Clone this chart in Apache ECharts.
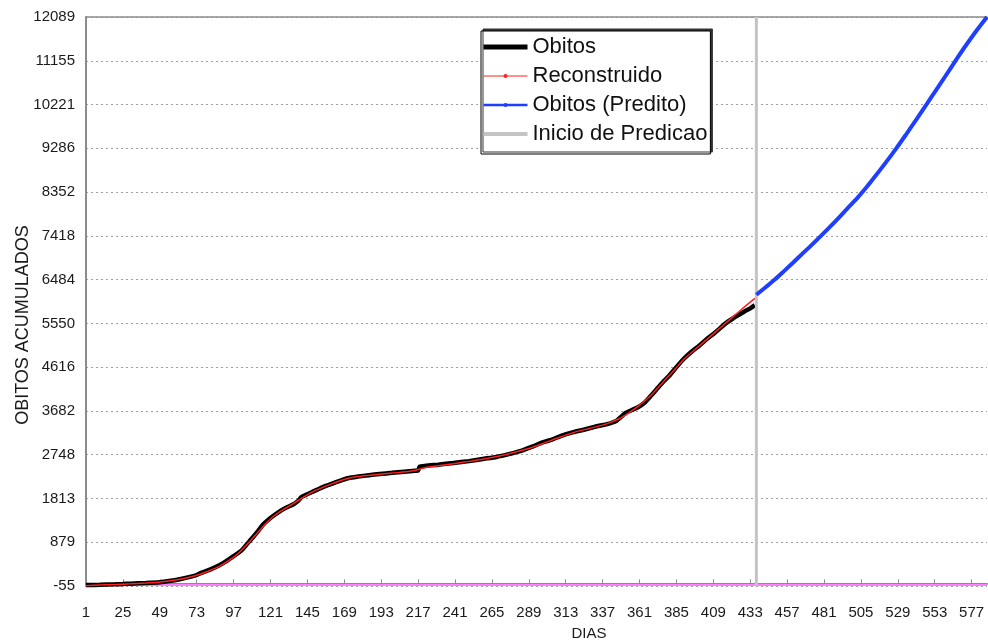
<!DOCTYPE html>
<html>
<head>
<meta charset="utf-8">
<script src="https://cdn.jsdelivr.net/npm/echarts@6/dist/echarts.min.js"></script>
<style>html,body{margin:0;padding:0;background:#fff}#c{width:988px;height:644px}</style>
</head>
<body>
<div id="c"></div>
<script>
// ---- data (day, value) ----
var obitosDays = [1,10,20,25,30,40,49,55,62,70,73,76,82,88,92,96,102,106,110,113,116,120,124,128,132,136,139,141,144,148,152,157,162,167,172,178,185,192,200,208,215,217,218,222,230,240,250,260,268,276,284,292,298,304,310,318,326,334,340,346,352,356,360,364,368,372,376,380,385,390,395,400,405,410,417,422,426,430,433,436];
var obitosVals = [-35,-28,-18,-12,-5,8,25,50,90,150,180,225,300,393,470,560,700,850,1000,1120,1250,1370,1470,1560,1630,1690,1760,1840,1890,1950,2010,2080,2140,2200,2250,2280,2310,2335,2360,2385,2405,2410,2490,2510,2535,2570,2610,2660,2700,2760,2830,2930,3010,3070,3150,3230,3290,3360,3400,3470,3640,3700,3760,3850,3990,4140,4290,4420,4616,4800,4950,5080,5220,5350,5550,5660,5740,5820,5870,5940];

var reconDays = [1,10,20,30,40,48,56,64,72,80,88,94,100,106,112,118,124,130,136,142,148,155,162,170,178,186,195,205,215,220,230,240,250,260,270,280,290,300,310,320,330,340,348,354,360,366,372,378,384,390,396,402,408,414,420,426,431,436];
var reconVals = [-50,-35,-22,-8,8,25,55,100,165,255,370,490,640,840,1060,1280,1460,1590,1710,1830,1950,2050,2140,2230,2280,2310,2340,2370,2410,2460,2510,2555,2605,2655,2720,2800,2890,3010,3130,3240,3320,3410,3520,3640,3780,3940,4140,4360,4570,4790,4960,5130,5300,5470,5640,5810,5950,6084];

var preditoDays = [437,443,449,455,461,467,473,479,485,491,497,503,509,515,521,528,534,541,548,554,560,567,573,580,587];
var preditoVals = [6160,6320,6484,6665,6850,7040,7225,7418,7615,7820,8030,8240,8470,8720,8975,9286,9565,9900,10240,10535,10830,11180,11470,11790,12089];

var inicioDay = 437;
var baseLineVal = -34;

var xMin = 1, xMax = 587, xInterval = 24;
var yMin = -55, yMax = 12089;
var yTickLabels = ['-55','879','1813','2748','3682','4616','5550','6484','7418','8352','9286','10221','11155','12089'];
var yInterval = (yMax - yMin) / (yTickLabels.length - 1);

function pairs(d, v){ return d.map(function(x,i){ return [x, v[i]]; }); }

var chart = echarts.init(document.getElementById('c'), null, {renderer:'canvas'});
var font = 'Liberation Sans, Arial, sans-serif';
var axisGray = '#8c8c8c';
chart.setOption({
  animation: false,
  backgroundColor: '#fff',
  grid: { left: 86, right: 1, top: 17, bottom: 58, show: false, containLabel: false, outerBoundsMode: 'none' },
  legend: {
    orient: 'vertical', left: 481, top: 31,
    padding: [5, 3, 9, 0],
    itemWidth: 44, itemHeight: 5, itemGap: 7,
    backgroundColor: '#fff', borderColor: '#000', borderWidth: 1,
    shadowColor: '#333', shadowOffsetX: 2, shadowOffsetY: -2, shadowBlur: 0,
    textStyle: { fontFamily: font, fontSize: 22, color: '#111', lineHeight: 22 },
    data: [
      { name: 'Obitos', lineStyle: { color: '#000', width: 5 }, itemStyle: { opacity: 0 } },
      { name: 'Reconstruido', lineStyle: { color: '#ff2020', width: 1 }, itemStyle: { color: '#ff2020' } },
      { name: 'Obitos (Predito)', lineStyle: { color: '#1f3fff', width: 2.5 }, itemStyle: { color: '#1f3fff' } },
      { name: 'Inicio de Predicao', lineStyle: { color: '#c4c4c4', width: 4 }, itemStyle: { opacity: 0 } }
    ]
  },
  xAxis: [{
    type: 'value', min: xMin, max: xMax, interval: xInterval, offset: 4,
    name: 'DIAS', nameLocation: 'middle', nameGap: 36, nameMoveOverlap: false,
    nameTextStyle: { fontFamily: font, fontSize: 15, color: '#1a1a1a', padding: [0,0,0,105] },
    axisLine: { show: true, lineStyle: { color: axisGray, width: 2 } },
    axisTick: { show: true, inside: true, length: 4, lineStyle: { color: axisGray } },
    axisLabel: { fontFamily: font, fontSize: 15, color: '#1a1a1a', margin: 15, showMaxLabel: false },
    splitLine: { show: false }
  }, {
    type: 'value', position: 'top', min: xMin, max: xMax,
    axisLine: { show: true, lineStyle: { color: axisGray, width: 1.5 } },
    axisTick: { show: false }, axisLabel: { show: false }, splitLine: { show: false }
  }],
  yAxis: {
    type: 'value', min: yMin, max: yMax, interval: yInterval,
    name: 'OBITOS ACUMULADOS', nameLocation: 'middle', nameGap: 54, nameMoveOverlap: false,
    nameTextStyle: { fontFamily: font, fontSize: 18, color: '#1a1a1a', padding: [0,47,0,0] },
    axisLine: { show: true, lineStyle: { color: axisGray, width: 2 } },
    axisTick: { show: false },
    axisLabel: {
      fontFamily: font, fontSize: 15, color: '#1a1a1a', margin: 11,
      formatter: function(v){ var i = Math.round((v - yMin) / yInterval); return yTickLabels[i] !== undefined ? yTickLabels[i] : ''; }
    },
    splitLine: { show: true, lineStyle: { color: '#a0a0a0', type: [2, 3], width: 1 } }
  },
  series: [
    { name: 'base', type: 'line', data: [[xMin, baseLineVal],[xMax, baseLineVal]], symbol: 'none',
      lineStyle: { color: '#ff80ff', width: 2 }, z: 1, silent: true },
    { name: 'Obitos', type: 'line', data: pairs(obitosDays, obitosVals), symbol: 'none', smooth: 0.2,
      lineStyle: { color: '#000', width: 4.5 }, itemStyle: { color: '#000' }, z: 2 },
    { name: 'Reconstruido', type: 'line', data: pairs(reconDays, reconVals), symbol: 'circle', symbolSize: 2, showSymbol: false, smooth: 0.3,
      lineStyle: { color: '#ff2020', width: 1.5 }, itemStyle: { color: '#ff2020' }, z: 3 },
    { name: 'Obitos (Predito)', type: 'line', data: pairs(preditoDays, preditoVals), symbol: 'circle', symbolSize: 4, showSymbol: false, smooth: 0.3,
      lineStyle: { color: '#1f3fff', width: 4 }, itemStyle: { color: '#1f3fff' }, z: 4 },
    { name: 'Inicio de Predicao', type: 'line', data: [[inicioDay, yMin],[inicioDay, yMax]], symbol: 'none',
      lineStyle: { color: '#c4c4c4', width: 3 }, itemStyle: { color: '#c4c4c4' }, z: 2 }
  ]
});
</script>
</body>
</html>
